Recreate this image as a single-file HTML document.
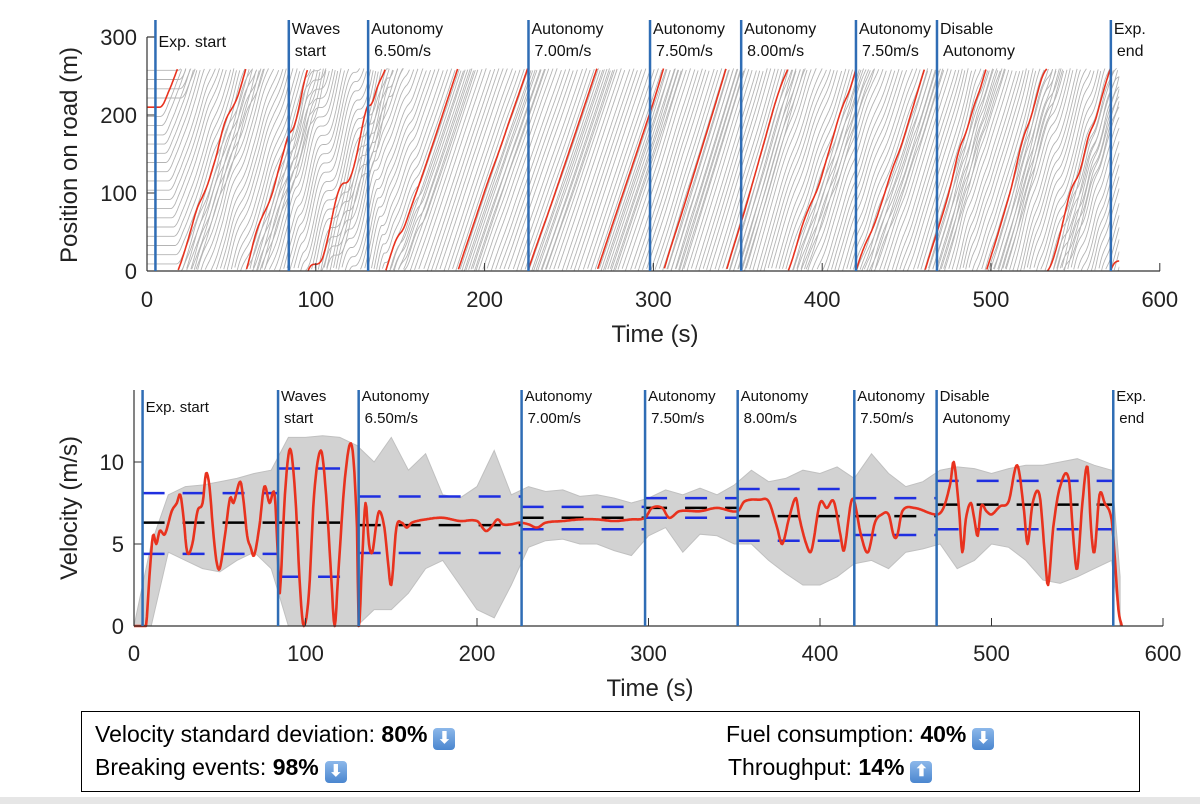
<!DOCTYPE html>
<html><head><meta charset="utf-8"><style>
body{margin:0;width:1200px;height:804px;background:#fff;overflow:hidden;font-family:"Liberation Sans",sans-serif;position:relative}
svg{position:absolute;left:0;top:0}
.box{position:absolute;left:81px;top:711px;width:1057px;height:79px;border:1.5px solid #000;font-size:23px;color:#000}
.t{position:absolute;white-space:nowrap}
.ic{display:inline-block;width:22px;height:22px;border-radius:4px;background:linear-gradient(#8cb8ea,#4a86cf);color:#fff;font-size:16px;line-height:22px;text-align:center;vertical-align:-1px;font-weight:bold;margin-left:6px}
.foot{position:absolute;left:0;top:797px;width:1200px;height:7px;background:#e6e6e6}
</style></head><body>
<svg id="chart" width="1200" height="804"></svg>
<div class="box">
 <div class="t" style="left:13px;top:9px">Velocity standard deviation: <b>80%</b><span class="ic">⬇</span></div>
 <div class="t" style="left:13px;top:42px">Breaking events: <b>98%</b><span class="ic">⬇</span></div>
 <div class="t" style="left:644px;top:9px">Fuel consumption: <b>40%</b><span class="ic">⬇</span></div>
 <div class="t" style="left:646px;top:42px">Throughput: <b>14%</b><span class="ic">⬆</span></div>
</div>
<div class="foot"></div>
<script>
const redT=[0,5,7,9,11,13,15,18,22,25,27,29,31,34,37,40,42,44,46,48,50,53,56,58,62,64,66,68,70,73,76,79,82,84,85,88,91,94,97,99,102,105,109,112,115,117,119,123,127,130,131,133,135,137,139,141,143,146,148,150,153,156,159,162,170,180,190,200,205,208,212,215,220,225,230,235,240,250,260,270,280,290,298,302,308,312,318,330,340,352,356,365,370,375,378,382,386,388,392,395,400,404,408,412,414,418,420,424,428,432,436,440,443,445,448,455,468,472,476,478,481,483,485,488,490,492,494,497,500,505,510,515,519,521,524,528,531,533,536,540,545,548,550,553,556,558,560,563,566,570,572,574,576];
const redV=[0,0,0,3,5.5,5,5.8,5.6,7,7.5,8,6.5,4.5,5,7,7.5,9.3,8.5,6,4,3.5,5.5,7.8,7.5,8.8,7.5,5.5,4.8,4.3,6,8.5,7.5,8,4,2,8,10.8,8,2,0,2,8,10.7,8,3,0,3,9,11,6,0,4,7.5,5,4.5,6,7,6,4,2.5,6,6.3,6,6.3,6.5,6.6,6.4,6.4,5.8,6,6.5,6.2,6.2,6.3,6.2,6.0,6.3,6.4,6.5,6.5,6.4,6.5,6.6,7.2,7.2,6.6,7.0,7.0,7.2,7.0,7.6,7.7,7.6,6.0,5.0,6.6,7.8,6.6,5.0,4.6,7.5,7.2,7.6,5.5,4.6,7.5,7.6,5.5,4.5,6.3,6.8,6.8,5.5,5.5,7.0,7.2,6.8,7.2,8.7,10.0,7.2,4.5,6.5,7.5,6.5,5.5,7.3,7.0,6.8,7.3,7.6,9.8,7.0,5.0,7.5,8.0,4.5,2.5,6.0,8.5,9.0,5.0,3.5,7.5,9.7,6.0,4.5,8.0,7.5,6.5,4,1,0];
const bandT=[0,10,20,30,40,50,60,70,80,90,100,110,120,130,140,150,160,170,180,190,200,210,220,230,240,250,260,270,280,290,300,310,320,330,340,350,360,370,380,390,400,410,420,430,440,450,460,470,480,490,500,510,520,530,540,550,560,570,575];
const bandUp=[0,5,8,8.5,8.6,8.8,9,9.3,9.5,11.5,11.5,11.6,11.5,11,10,11.5,9.5,10.5,8,7.8,8.5,10.7,8,8.5,8.2,8.3,7.9,8,7.8,7.5,7.8,8.3,8,8.4,8,8.6,9.5,8.8,9,9.5,9.3,9.7,9,10.5,9.3,8.5,8.8,9.5,9.7,9.6,9.3,9.6,9.8,9.8,10,10.2,9.8,9.5,3];
const bandLo=[0,0,4.5,4,3.5,3.3,4,4.5,3.5,0,0,0,0,0,1,1,2,3.5,4,2.5,1,0.5,2.5,4.8,5.2,5.3,5,5,4.6,4.3,5.5,6,4.5,5.6,5.5,5,5,4,3.2,2.5,2.5,3,3.8,4,3.5,4.5,4.7,5,3.5,4,5,4.8,4,2.8,2.6,3,3.5,4,0];
const segStart=[5,84,131,226,298,352,420,468];
const segEnd=[84,131,226,298,352,420,468,571];
const segMean=[6.3,6.3,6.15,6.6,7.2,6.7,6.7,7.4];
const segUp=[8.1,9.6,7.9,7.26,7.8,8.35,7.8,8.85];
const segLo=[4.4,3.0,4.45,5.9,6.6,5.2,5.55,5.9];
const eventT=[5,84,131,226,298,352,420,468,571];
const eventL1=["Exp. start","Waves","Autonomy","Autonomy","Autonomy","Autonomy","Autonomy","Disable","Exp."];
const eventL2=["","start","6.50m/s","7.00m/s","7.50m/s","8.00m/s","7.50m/s","Autonomy","end"];
const xTicks=[0,100,200,300,400,500,600];
const yTicksTop=[0,100,200,300];
const yTicksBot=[0,5,10];
const nVeh=22, ringLen=260, startPos=210;

const NS="http://www.w3.org/2000/svg";
const svg=document.getElementById('chart');
function mk(tag,at,parent){const e=document.createElementNS(NS,tag);for(const k in at)e.setAttribute(k,at[k]);(parent||svg).appendChild(e);return e;}
function interp(T,V,t){if(t<=T[0])return V[0];const n=T.length;if(t>=T[n-1])return V[n-1];
 let i=1;while(T[i]<t)i++;const t0=T[i-1],t1=T[i],h=t1-t0,f=(t-t0)/h;
 const m=j=>{const a=Math.max(0,j-1),b=Math.min(n-1,j+1);return (V[b]-V[a])/(T[b]-T[a]);};
 const m0=m(i-1)*h,m1=m(i)*h,f2=f*f,f3=f2*f;
 let v=(2*f3-3*f2+1)*V[i-1]+(f3-2*f2+f)*m0+(-2*f3+3*f2)*V[i]+(f3-f2)*m1;return Math.max(0,v);}
const tx=t=>147+t*1.688, ty=p=>271-p*0.78;
const bx=t=>134+t*1.715, by=v=>626-v*16.4;
const dt=0.5, Xs=[];let X=startPos;
for(let t=0;t<=576;t+=dt){Xs.push(X);X+=interp(redT,redV,t)*dt;}
function Xat(t){if(t<0)return Xs[0];const i=Math.min(Xs.length-1,Math.round(t/dt));return Xs[i];}
const clip=mk('clipPath',{id:'cp'});mk('rect',{x:147,y:ty(260),width:tx(576)-147,height:ty(0)-ty(260)},clip);
const gTop=mk('g',{"clip-path":"url(#cp)"},svg);


function traj(i,color,w){let d="",prev=null;
 for(let t=0;t<=576;t+=dt){let p=Xat(t-i*0.6)-i*(ringLen/nVeh);p=((p%ringLen)+ringLen)%ringLen;
  const cmd=(prev===null||Math.abs(p-prev)>100)?"M":"L";d+=cmd+tx(t).toFixed(1)+" "+ty(p).toFixed(1);prev=p;}
 return mk('path',{d:d,fill:"none",stroke:color,"stroke-width":w},gTop);}
for(let i=1;i<nVeh;i++){const e=traj(i,"#b4b4b4",0.9);
 
 }
const rt=traj(0,"#e8321e",1.6);


mk('line',{x1:147,y1:271,x2:1160,y2:271,stroke:"#333","stroke-width":1.2});
mk('line',{x1:147,y1:271,x2:147,y2:37,stroke:"#333","stroke-width":1.2});
mk('line',{x1:147,y1:37,x2:156,y2:37,stroke:"#333","stroke-width":1.2});
xTicks.forEach(v=>{mk('line',{x1:tx(v),y1:271,x2:tx(v),y2:263,stroke:"#333"});
 const e=mk('text',{x:tx(v),y:307,"font-size":22,"text-anchor":"middle",fill:"#222"});e.textContent=v;
 });
yTicksTop.forEach(v=>{mk('line',{x1:147,y1:ty(v),x2:155,y2:ty(v),stroke:"#333"});
 const e=mk('text',{x:137,y:ty(v)+8,"font-size":22,"text-anchor":"end",fill:"#222"});e.textContent=v;
 });
let e=mk('text',{x:655,y:342,"font-size":24,"text-anchor":"middle",fill:"#222"});e.textContent="Time (s)";

e=mk('text',{x:0,y:0,"font-size":24,"text-anchor":"middle",fill:"#222",transform:"translate(77,155) rotate(-90)"});e.textContent="Position on road (m)";

eventT.forEach((t,i)=>{mk('line',{x1:tx(t),y1:271,x2:tx(t),y2:20,stroke:"#2f6db5","stroke-width":2.5});
 const a=mk('text',{x:tx(t)+3,y:i==0?47:34,"font-size":16,fill:"#111"});a.textContent=eventL1[i];
 
 if(eventL2[i]){const b=mk('text',{x:tx(t)+6,y:56,"font-size":16,fill:"#111"});b.textContent=eventL2[i];
 }});
let band="M";bandT.forEach((t,i)=>band+=(i?"L":"")+bx(t).toFixed(1)+" "+by(bandUp[i]).toFixed(1));
for(let i=bandT.length-1;i>=0;i--)band+="L"+bx(bandT[i]).toFixed(1)+" "+by(bandLo[i]).toFixed(1);
e=mk('path',{d:band+"Z",fill:"#d2d2d2",stroke:"#c0c0c0","stroke-width":1});

segStart.forEach((s,i)=>{[[segUp[i],"#1f2fe0"],[segLo[i],"#1f2fe0"],[segMean[i],"#000"]].forEach(([v,c])=>{
 const l=mk('line',{x1:bx(s),y1:by(v),x2:bx(segEnd[i]),y2:by(v),stroke:c,"stroke-width":2.5,"stroke-dasharray":"22 18"});
 });});
let rd="";for(let t=0;t<=576;t+=0.5)rd+=(t?"L":"M")+bx(t).toFixed(1)+" "+by(interp(redT,redV,t)).toFixed(1);
e=mk('path',{d:rd,fill:"none",stroke:"#e8321e","stroke-width":2.6,"stroke-linejoin":"round"});

mk('line',{x1:134,y1:626,x2:1163,y2:626,stroke:"#333","stroke-width":1.2});
mk('line',{x1:134,y1:626,x2:134,y2:390,stroke:"#333","stroke-width":1.2});
xTicks.forEach(v=>{mk('line',{x1:bx(v),y1:626,x2:bx(v),y2:618,stroke:"#333"});
 const a=mk('text',{x:bx(v),y:661,"font-size":22,"text-anchor":"middle",fill:"#222"});a.textContent=v;
 });
yTicksBot.forEach(v=>{mk('line',{x1:134,y1:by(v),x2:142,y2:by(v),stroke:"#333"});
 const a=mk('text',{x:124,y:by(v)+8,"font-size":22,"text-anchor":"end",fill:"#222"});a.textContent=v;
 });
e=mk('text',{x:650,y:696,"font-size":24,"text-anchor":"middle",fill:"#222"});e.textContent="Time (s)";

e=mk('text',{x:0,y:0,"font-size":24,"text-anchor":"middle",fill:"#222",transform:"translate(77,508) rotate(-90)"});e.textContent="Velocity (m/s)";

eventT.forEach((t,i)=>{mk('line',{x1:bx(t),y1:626,x2:bx(t),y2:390,stroke:"#2f6db5","stroke-width":2.5});
 const a=mk('text',{x:bx(t)+3,y:i==0?412:401,"font-size":15,fill:"#111"});a.textContent=eventL1[i];
 
 if(eventL2[i]){const b=mk('text',{x:bx(t)+6,y:423,"font-size":15,fill:"#111"});b.textContent=eventL2[i];
 }});
</script>
</body></html>
